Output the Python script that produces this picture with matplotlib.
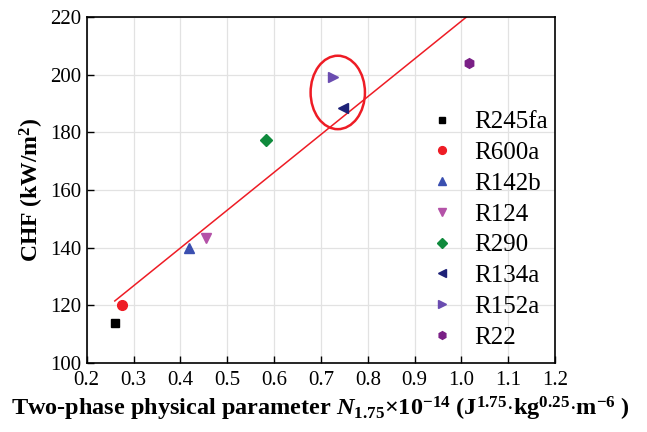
import matplotlib
matplotlib.use("Agg")
import matplotlib.pyplot as plt
from matplotlib.patches import Ellipse
import numpy as np

plt.rcParams['font.family'] = ['Liberation Serif', 'DejaVu Serif']
plt.rcParams['mathtext.fontset'] = 'custom'
plt.rcParams['mathtext.rm'] = 'Liberation Serif'
plt.rcParams['mathtext.it'] = 'Liberation Serif:italic:bold'
plt.rcParams['mathtext.bf'] = 'Liberation Serif:bold'

names = ['R245fa', 'R600a', 'R142b', 'R124', 'R290', 'R134a', 'R152a', 'R22']
n175 = [0.26, 0.276, 0.418, 0.455, 0.582, 0.748, 0.726, 1.017]
chf = [113.7, 120.2, 140.0, 143.5, 177.5, 188.6, 199.1, 204.0]
markers = ['s', 'o', '^', 'v', 'D', '<', '>', 'h']
colors = ['#000000', '#ee1c25', '#3a4fb0', '#b452a8', '#0f8a3c', '#1e2278', '#6a4cb0', '#7a1f86']
sizes = [6, 7, 7, 7, 6, 7, 7, 7]

fit_x = [0.26, 1.01]
fit_y = [121.5, 220.0]

fig, ax = plt.subplots(figsize=(6.47, 4.32), dpi=100)
fig.subplots_adjust(left=0.134, right=0.858, top=0.96, bottom=0.16)

ax.plot(fit_x, fit_y, color='#ee1c25', lw=1.1, zorder=2)
for n, x, y, m, c, s in zip(names, n175, chf, markers, colors, sizes):
    ax.plot(x, y, ls='none', marker=m, color=c, ms=s, label=n, zorder=3)

ax.add_patch(Ellipse((0.736, 193.9), 0.116, 25.5, fill=False, ec='#ee1c25', lw=1.8, zorder=4))

ax.set_xlim(0.2, 1.2)
ax.set_ylim(100, 220)
ax.set_xticks(np.arange(0.2, 1.21, 0.1))
ax.set_yticks(np.arange(100, 221, 20))
ax.set_xticklabels([f'{v:.1f}' for v in np.arange(0.2, 1.21, 0.1)])
ax.grid(color='#e2e2e2', lw=0.9)
ax.set_axisbelow(True)
ax.tick_params(direction='in', labelsize=15, length=5, width=1)
ax.tick_params(axis='x', pad=6)
ax.tick_params(axis='y', pad=4)
for sp in ax.spines.values():
    sp.set_linewidth(1.2)

ax.set_ylabel(r'CHF (kW/m$^\mathbf{2}$)', fontsize=17, fontweight='bold', labelpad=3)
ax.set_xlabel(r'Two-phase physical parameter $\mathit{N}_\mathbf{1.75}$$\mathbf{\times 10^{-14}}$ (J$^\mathbf{1.75}$$\mathbf{\cdot}$kg$^\mathbf{0.25}$$\mathbf{\cdot}$m$^\mathbf{-6}$ )',
              fontsize=17.5, fontweight='bold', labelpad=3)

ax.legend(loc='center left', frameon=False, fontsize=18, handlelength=1.0,
          handletextpad=0.8, labelspacing=0.33, borderaxespad=0,
          markerscale=0.8, bbox_to_anchor=(0.71, 0.385))

fig.savefig('out.png', dpi=100)
